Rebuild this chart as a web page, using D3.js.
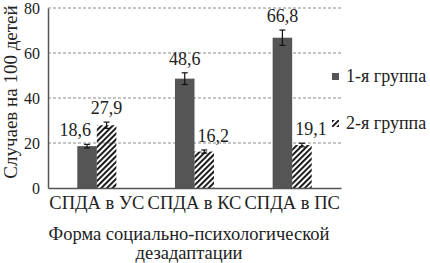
<!DOCTYPE html>
<html>
<head>
<meta charset="utf-8">
<script src="https://cdn.jsdelivr.net/npm/d3@7"></script>
<style>
  body { margin: 0; background: #fff; }
  svg text { font-family: "Liberation Serif", "DejaVu Serif", serif; }
</style>
</head>
<body>
<div id="chart"></div>
<script>
// Data
const categories = ["СПДА в УС", "СПДА в КС", "СПДА в ПС"];
const groups = ["1-я группа", "2-я группа"];
const group1 = [18.6, 48.6, 66.8];
const group2 = [27.9, 16.2, 19.1];
const group1Err = [0.8, 2.6, 3.4];
const group2Err = [1.4, 0.7, 0.8];
const yTicks = [0, 20, 40, 60, 80];

const serif = "Liberation Serif, DejaVu Serif, serif";
const width = 430;
const height = 263;
const margin = {top: 8, right: 89, bottom: 75, left: 48};
const w = width - margin.left - margin.right;
const h = height - margin.top - margin.bottom;

const svg = d3.select("#chart")
  .append("svg")
  .attr("width", width)
  .attr("height", height)
  .attr("font-family", serif);

// Hatch pattern for group 2
const defs = svg.append("defs");
defs.append("pattern")
  .attr("id", "hatch")
  .attr("patternUnits", "userSpaceOnUse")
  .attr("width", 4)
  .attr("height", 4)
  .attr("patternTransform", "rotate(45)")
  .append("rect")
  .attr("x", 0)
  .attr("y", 0)
  .attr("width", 1.9)
  .attr("height", 4)
  .attr("fill", "#111");

const g = svg.append("g")
  .attr("transform", "translate(" + margin.left + "," + margin.top + ")");

// Scales
const x0 = d3.scaleBand().domain(categories).range([0, w]);
const x1 = d3.scaleBand().domain(groups).range([0, x0.bandwidth() * 0.4]);
const barOffset = x0.bandwidth() * 0.3;
const y = d3.scaleLinear().domain([0, 80]).range([h, 0]);

// Gridlines
g.selectAll(".grid")
  .data(yTicks.filter(function(d) { return d > 0; }))
  .enter()
  .append("line")
  .attr("x1", 0)
  .attr("x2", w + 2)
  .attr("y1", function(d) { return y(d); })
  .attr("y2", function(d) { return y(d); })
  .attr("stroke", "#8a8a8a")
  .attr("stroke-width", 1)
  .attr("stroke-dasharray", "3,2");

// Build data model
const data = [];
categories.forEach(function(c, i) {
  data.push({cat: c, grp: groups[0], v: group1[i], e: group1Err[i]});
  data.push({cat: c, grp: groups[1], v: group2[i], e: group2Err[i]});
});

function barX(d) {
  return x0(d.cat) + barOffset + x1(d.grp);
}

// Bars
g.selectAll(".bar")
  .data(data)
  .enter()
  .append("rect")
  .attr("x", barX)
  .attr("y", function(d) { return y(d.v); })
  .attr("width", x1.bandwidth())
  .attr("height", function(d) { return h - y(d.v); })
  .attr("fill", function(d) { return d.grp === groups[0] ? "#555555" : "url(#hatch)"; });

// Error bars
const err = g.selectAll(".err")
  .data(data)
  .enter()
  .append("g")
  .attr("stroke", "#111")
  .attr("stroke-width", 1.2);
err.append("line")
  .attr("x1", function(d) { return barX(d) + x1.bandwidth() / 2; })
  .attr("x2", function(d) { return barX(d) + x1.bandwidth() / 2; })
  .attr("y1", function(d) { return y(d.v - d.e); })
  .attr("y2", function(d) { return y(d.v + d.e); });
err.append("line")
  .attr("x1", function(d) { return barX(d) + x1.bandwidth() / 2 - 3; })
  .attr("x2", function(d) { return barX(d) + x1.bandwidth() / 2 + 3; })
  .attr("y1", function(d) { return y(d.v + d.e); })
  .attr("y2", function(d) { return y(d.v + d.e); });
err.append("line")
  .attr("x1", function(d) { return barX(d) + x1.bandwidth() / 2 - 3; })
  .attr("x2", function(d) { return barX(d) + x1.bandwidth() / 2 + 3; })
  .attr("y1", function(d) { return y(d.v - d.e); })
  .attr("y2", function(d) { return y(d.v - d.e); });

// Value labels
const fmt = function(v) { return d3.format(".1f")(v).replace(".", ","); };
const labels = g.selectAll(".val")
  .data(data)
  .enter()
  .append("text")
  .attr("font-size", 18)
  .attr("fill", "#222")
  .attr("text-anchor", "middle")
  .attr("x", function(d) { return barX(d) + x1.bandwidth() / 2; })
  .attr("y", function(d) { return y(d.v + d.e) - 8; })
  .text(function(d) { return fmt(d.v); });

// Push labels sideways when neighbours collide
labels.each(function(d) {
  const t = d3.select(this);
  if (d.grp === groups[0]) {
    const other = data.find(function(o) { return o.cat === d.cat && o.grp === groups[1]; });
    if (Math.abs(y(other.v + other.e) - y(d.v + d.e)) < 30) {
      t.attr("text-anchor", "end").attr("x", barX(d) + x1.bandwidth() / 2 + 4);
    }
  } else {
    const other = data.find(function(o) { return o.cat === d.cat && o.grp === groups[0]; });
    if (other.v > d.v) {
      t.attr("text-anchor", "start").attr("x", barX(d) + 3);
    }
  }
});

// Axes
const yAxis = d3.axisLeft(y).tickValues(yTicks).tickSize(0).tickPadding(8);
const ya = g.append("g").call(yAxis).attr("font-family", serif);
ya.select(".domain").attr("stroke", "#555").attr("stroke-width", 1.5);
ya.selectAll(".tick text")
  .attr("font-size", 16)
  .attr("fill", "#222");

const xAxis = d3.axisBottom(x0).tickSize(0).tickPadding(8);
const xa = g.append("g")
  .attr("transform", "translate(0," + h + ")")
  .call(xAxis)
  .attr("font-family", serif);
xa.select(".domain").attr("stroke", "#555").attr("stroke-width", 1.5);
xa.selectAll(".tick text")
  .attr("font-size", 18.5)
  .attr("fill", "#222");

// Axis titles
svg.append("text")
  .attr("transform", "translate(17," + 92 + ") rotate(-90)")
  .attr("text-anchor", "middle")
  .attr("font-size", 19)
  .attr("fill", "#222")
  .text("Случаев на 100 детей");

const xTitle = svg.append("text")
  .attr("text-anchor", "middle")
  .attr("font-size", 18.5)
  .attr("fill", "#222");
xTitle.append("tspan").attr("x", 189).attr("y", 240).text("Форма социально-психологической");
xTitle.append("tspan").attr("x", 189).attr("y", 259).text("дезадаптации");

// Legend
const legend = svg.selectAll(".legend")
  .data(groups)
  .enter()
  .append("g")
  .attr("transform", function(d, i) { return "translate(332," + (73 + i * 47) + ")"; });
legend.append("rect")
  .attr("width", 7)
  .attr("height", 7)
  .attr("fill", function(d, i) { return i === 0 ? "#555555" : "url(#hatch)"; });
legend.append("text")
  .attr("x", 14)
  .attr("y", 9)
  .attr("font-size", 18)
  .attr("fill", "#222")
  .text(function(d) { return d; });
</script>
</body>
</html>
